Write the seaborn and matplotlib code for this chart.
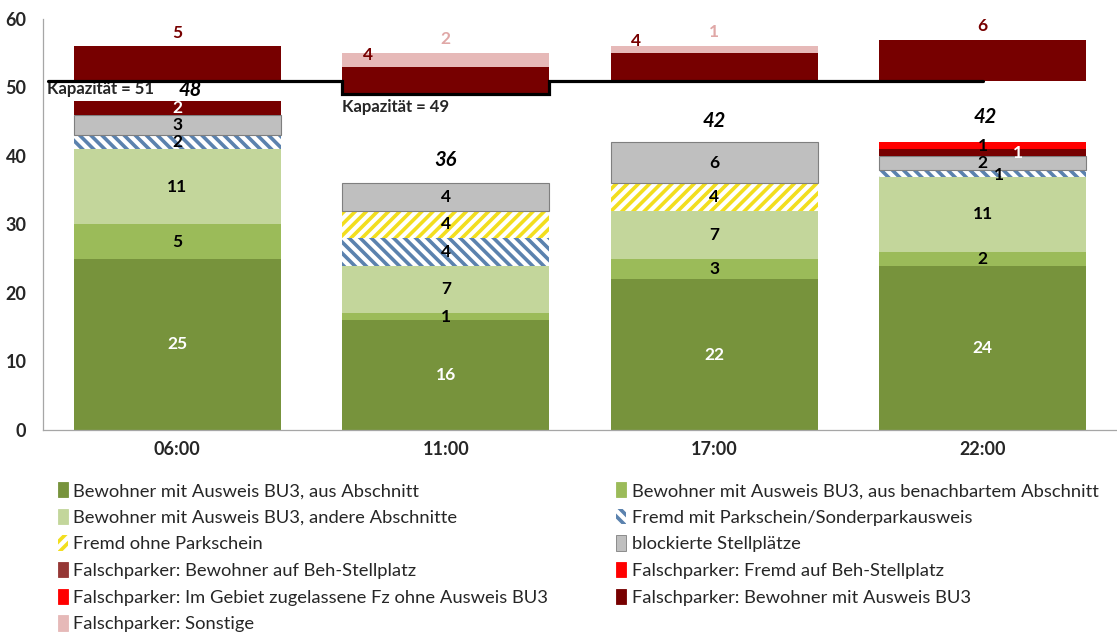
import matplotlib
matplotlib.use("Agg")
import matplotlib.pyplot as plt
from matplotlib.patches import Patch
import seaborn as sns
import pandas as pd

# ----------------------------- data ---------------------------------------
times = ["06:00", "11:00", "17:00", "22:00"]

bew_abschnitt = [25, 16, 22, 24]
bew_nachbar = [5, 1, 3, 2]
bew_andere = [11, 7, 7, 11]
fremd_mit_schein = [2, 4, 0, 1]
fremd_ohne_schein = [0, 4, 4, 0]
blockiert = [3, 4, 6, 2]
fp_bew_beh = [0, 0, 0, 0]
fp_bew_bu3 = [2, 0, 0, 1]
fp_fremd_beh = [0, 0, 0, 0]
fp_gebiet = [0, 0, 0, 1]
fp_sonstige = [0, 0, 0, 0]

kapazitaet = [51, 49, 51, 51]
ueber_bu3 = [5, 4, 4, 6]
ueber_sonstige = [0, 2, 1, 0]

labels = [
    "Bewohner mit Ausweis BU3, aus Abschnitt",
    "Bewohner mit Ausweis BU3, aus benachbartem Abschnitt",
    "Bewohner mit Ausweis BU3, andere Abschnitte",
    "Fremd mit Parkschein/Sonderparkausweis",
    "Fremd ohne Parkschein",
    "blockierte Stellplätze",
    "Falschparker: Bewohner auf Beh-Stellplatz",
    "Falschparker: Fremd auf Beh-Stellplatz",
    "Falschparker: Im Gebiet zugelassene Fz ohne Ausweis BU3",
    "Falschparker: Bewohner mit Ausweis BU3",
    "Falschparker: Sonstige",
]

# ----------------------------- style --------------------------------------
sns.set_theme(style="white")
plt.rcParams["font.family"] = ["Lato", "DejaVu Sans"]
plt.rcParams["hatch.linewidth"] = 2.6

DARKRED = "#770000"
PINK = "#E6B9B8"

# (label index, values, face, hatch colour / edge, hatch, label colour)
layers = [
    (0, bew_abschnitt, "#77933C", "none", None, "white"),
    (1, bew_nachbar, "#9BBB59", "none", None, "black"),
    (2, bew_andere, "#C3D69B", "none", None, "black"),
    (3, fremd_mit_schein, "white", "#5B82AE", "\\\\\\", "black"),
    (4, fremd_ohne_schein, "white", "#F2DE1E", "///", "black"),
    (5, blockiert, "#BFBFBF", "#7F7F7F", None, "black"),
    (6, fp_bew_beh, "#953735", "none", None, "white"),
    (9, fp_bew_bu3, DARKRED, "none", None, "white"),
    (7, fp_fremd_beh, "#FF0000", "none", None, "black"),
    (8, fp_gebiet, "#FF0000", "none", None, "black"),
    (10, fp_sonstige, PINK, "none", None, "black"),
]

# small label nudges (x, y) where the original puts labels off-centre
nudge = {(3, 3): (0.06, -0.3), (9, 3): (0.13, 0.0)}

fig = plt.figure(figsize=(11.17, 6.34), dpi=100)
ax = fig.add_axes([0.0385, 0.322, 0.9615, 0.648])

W = 0.77
bottom = [0] * len(times)
for idx, vals, face, edge, hatch, tcol in layers:
    df = pd.DataFrame({"t": times, "v": vals})
    sns.barplot(data=df, x="t", y="v", ax=ax, bottom=bottom, color=face,
                saturation=1, width=W, edgecolor=edge, hatch=hatch,
                linewidth=0 if hatch else (0.8 if edge != "none" else 0),
                errorbar=None)
    for i, v in enumerate(vals):
        if v > 0:
            dx, dy = nudge.get((idx, i), (0, 0))
            ax.text(i + dx, bottom[i] + v / 2 + dy, str(v), ha="center",
                    va="center", fontsize=12.5, fontweight="bold", color=tcol)
    bottom = [b + v for b, v in zip(bottom, vals)]

# totals
tot_dy = [1.6, 3.4, 3.1, 3.7]
tot_dx = [0.05, 0.0, 0.0, 0.01]
for i, b in enumerate(bottom):
    ax.text(i + tot_dx[i], b + tot_dy[i], str(b), ha="center", va="center",
            fontsize=14.5, fontweight="bold", fontstyle="italic", color="black")

# cars above capacity
df_over = pd.DataFrame({"t": times, "v": ueber_bu3})
sns.barplot(data=df_over, x="t", y="v", ax=ax, bottom=kapazitaet,
            color=DARKRED, saturation=1, width=W, linewidth=0, errorbar=None)
top_bu3 = [k + v for k, v in zip(kapazitaet, ueber_bu3)]
df_over2 = pd.DataFrame({"t": times, "v": ueber_sonstige})
sns.barplot(data=df_over2, x="t", y="v", ax=ax, bottom=top_bu3,
            color=PINK, saturation=1, width=W, linewidth=0, errorbar=None)
for i in range(len(times)):
    if ueber_sonstige[i] > 0:
        ax.text(i - 0.29, top_bu3[i] + 1.8, str(ueber_bu3[i]), ha="center",
                va="center", fontsize=12.5, fontweight="bold", color=DARKRED)
        ax.text(i, top_bu3[i] + ueber_sonstige[i] + 2.1, str(ueber_sonstige[i]),
                ha="center", va="center", fontsize=12.5, fontweight="bold",
                color="#E0A8A7")
    else:
        ax.text(i, top_bu3[i] + 2.0, str(ueber_bu3[i]), ha="center",
                va="center", fontsize=12.5, fontweight="bold", color=DARKRED)

# capacity step line: level of each bar under the bar, higher level in gaps
xs, ys = [-0.48], [kapazitaet[0]]
for i, c in enumerate(kapazitaet):
    xs += [i - W / 2, i - W / 2, i + W / 2, i + W / 2]
    nxt = kapazitaet[i + 1] if i + 1 < len(kapazitaet) else c
    gap = max(c, nxt)
    ys += [ys[-1], c, c, gap]
xs += [len(times) - 1]
ys += [ys[-1]]
xs = [min(x, len(times) - 1) for x in xs]
ax.plot(xs, ys, color="black", lw=2.3, solid_joinstyle="miter", zorder=5)
ax.text(-0.485, kapazitaet[0] - 1.2, f"Kapazität = {kapazitaet[0]}",
        ha="left", va="center", fontsize=12, fontweight="bold")
ax.text(1 - W / 2, kapazitaet[1] - 1.8, f"Kapazität = {kapazitaet[1]}",
        ha="left", va="center", fontsize=12, fontweight="bold")

# axes
ax.set_xlim(-0.5, len(times) - 0.5)
ax.set_ylim(0, 60)
ax.set_yticks(range(0, 61, 10))
ax.set_xlabel("")
ax.set_ylabel("")
ax.tick_params(axis="both", length=0, labelsize=13)
for lab in ax.get_xticklabels() + ax.get_yticklabels():
    lab.set_fontweight("bold")
ax.tick_params(axis="y", pad=12)
ax.tick_params(axis="x", pad=8)
for s in ["top", "right"]:
    ax.spines[s].set_visible(False)
for s in ["left", "bottom"]:
    ax.spines[s].set_color("#A6A6A6")
    ax.spines[s].set_linewidth(0.9)

# legend, two columns like the original
style = {idx: (face, edge, hatch) for idx, _, face, edge, hatch, _ in layers}
handles = []
for idx in range(len(labels)):
    face, edge, hatch = style[idx]
    handles.append(Patch(facecolor=face, edgecolor=edge if edge != "none" else face,
                         hatch=hatch, linewidth=0 if hatch else 0.6,
                         label=labels[idx]))
leg_kw = dict(frameon=False, fontsize=13.2, handlelength=0.55, handleheight=0.9,
              handletextpad=0.3, labelspacing=0.53, borderaxespad=0)
fig.legend(handles=handles[0::2], loc="upper left",
           bbox_to_anchor=(0.045, 0.251), **leg_kw)
fig.legend(handles=handles[1::2], loc="upper left",
           bbox_to_anchor=(0.545, 0.251), **leg_kw)

fig.savefig("out.png", dpi=100)
